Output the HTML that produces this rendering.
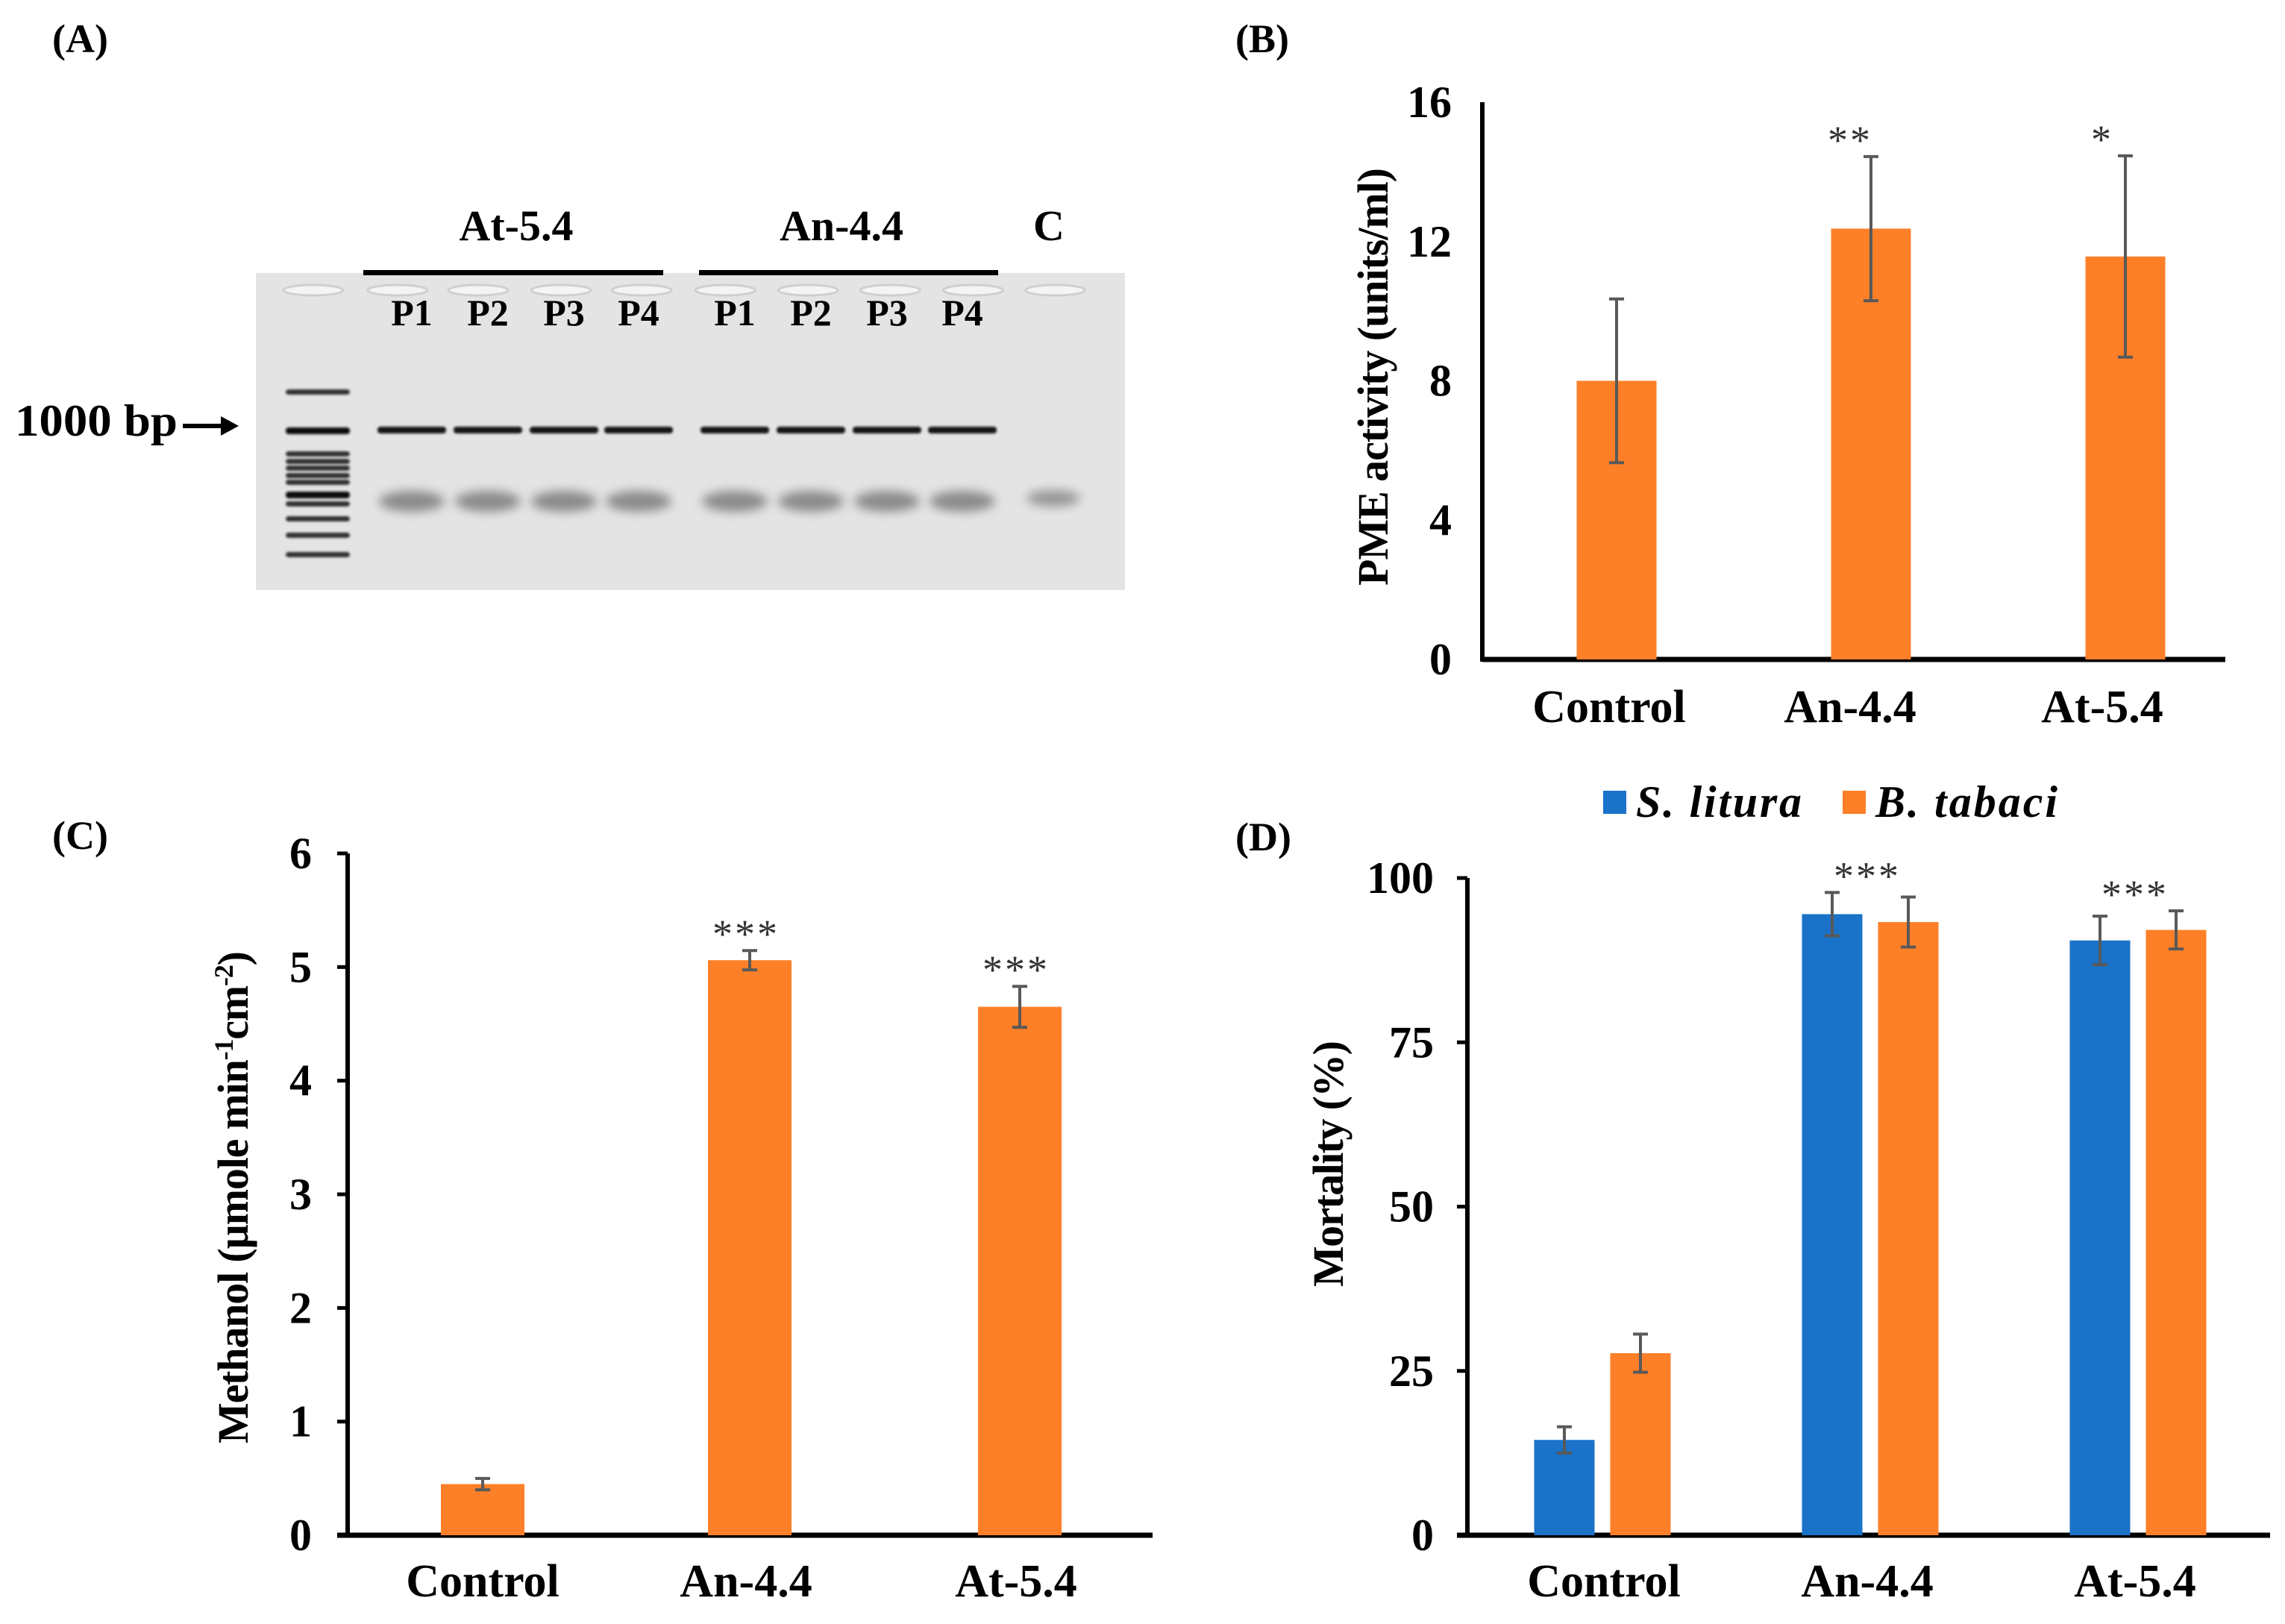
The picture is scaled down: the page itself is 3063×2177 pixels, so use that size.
<!DOCTYPE html>
<html><head><meta charset="utf-8">
<style>
html,body{margin:0;padding:0;background:#fff;}
svg{display:block;font-family:"Liberation Serif",serif;font-weight:bold;}
</style></head>
<body>
<svg id="fig" width="3063" height="2177" viewBox="0 0 3063 2177" xmlns="http://www.w3.org/2000/svg">
<defs>
<filter id="blur" x="-50%" y="-50%" width="200%" height="200%"><feGaussianBlur stdDeviation="7"/></filter>
<filter id="blur2" x="-20%" y="-100%" width="140%" height="300%"><feGaussianBlur stdDeviation="1.5"/></filter>
</defs>
<g>
<text x="70" y="70" font-size="54">(A)</text>
<rect x="343" y="366" width="1165" height="425" fill="#e4e4e4"/>
<rect x="487" y="362" width="402" height="7" fill="#000"/>
<rect x="937" y="362" width="401" height="7" fill="#000"/>
<text x="692" y="322" font-size="58" text-anchor="middle">At-5.4</text>
<text x="1128" y="322" font-size="58" text-anchor="middle">An-4.4</text>
<text x="1406" y="322" font-size="58" text-anchor="middle">C</text>
<g id="gel"></g>
<text x="20" y="584" font-size="60" textLength="218" lengthAdjust="spacingAndGlyphs">1000 bp</text>
<line x1="245" y1="571" x2="300" y2="571" stroke="#000" stroke-width="6"/>
<polygon points="296,558 320,571 296,584" fill="#000"/>
</g>
<g id="chartB"></g>
<g id="chartC"></g>
<g id="chartD"></g>
</svg>
<script>
// ---- Panel B data ----
const bCats = ["Control","An-4.4","At-5.4"];
const bVals = [8.0, 12.37, 11.57];
const bErr = [2.35, 2.07, 2.89];
const bStars = ["", "**", "*"];
const bTicks = [0,4,8,12,16];
// ---- Panel C data ----
const cCats = ["Control","An-4.4","At-5.4"];
const cVals = [0.45, 5.06, 4.65];
const cErr = [0.05, 0.085, 0.18];
const cStars = ["", "***", "***"];
const cTicks = [0,1,2,3,4,5,6];
// ---- Panel D data ----
const dCats = ["Control","An-4.4","At-5.4"];
const dLitura = [14.5, 94.5, 90.5];
const dLituraErr = [2.0, 3.3, 3.7];
const dTabaci = [27.7, 93.3, 92.1];
const dTabaciErr = [2.9, 3.8, 2.9];
const dStars = ["", "***", "***"];
const dTicks = [0,25,50,75,100];

const NS = "http://www.w3.org/2000/svg";
function mk(parent, tag, attrs, text){
  const e = document.createElementNS(NS, tag);
  for (const k in attrs) e.setAttribute(k, attrs[k]);
  if (text !== undefined) e.textContent = text;
  parent.appendChild(e);
  return e;
}
const ORANGE = "#fd7f28", BLUE = "#1a72c9", ERR = "#595959";

(function(){
  const g = document.getElementById('gel');
  const wells = [425,540,650,763,873,987,1100,1212,1325,1437];
  wells.forEach(x=>{
    const w = mk(g,'ellipse',{cx:x*0.983+2,cy:389,rx:40,ry:7,fill:"#f4f4f4",stroke:"#cfcfcf","stroke-width":3});
    
    
  });
  const lanesX = [552,654,756,856,985,1087,1189,1290];
  const pl = ["P1","P2","P3","P4","P1","P2","P3","P4"];
  lanesX.forEach((x,i)=>{
    const t = mk(g,'text',{x:x,y:436,"font-size":50,"text-anchor":"middle"},pl[i]);
    
    
    const b = mk(g,'rect',{x:x-46,y:572,width:92,height:9,rx:4,fill:"#151515",filter:"url(#blur2)"});
    
    
    const s = mk(g,'ellipse',{cx:x,cy:672,rx:44,ry:14,fill:"#8a8a8a",filter:"url(#blur)"});
    
    
  });
  const cb = mk(g,'ellipse',{cx:1412,cy:668,rx:36,ry:11,fill:"#959595",filter:"url(#blur)"});
  
  
  const ladder = [526,577,609,619,628,638,647,663,676,696,718,744];
  ladder.forEach((y,i)=>{
    const l = mk(g,'rect',{x:383,y:y-4,width:86,height:(i===1||i===7)?9:7,rx:4,fill:(i===1||i===7)?"#111":"#333",filter:"url(#blur2)"});
    
    
  });
})();

function axisY(v, min, max, y0, y1){ return y0 - (v-min)/(max-min)*(y0-y1); }

function drawChart(gid, cfg){
  const g = document.getElementById(gid);
  const Y = v => axisY(v, cfg.ticks[0], cfg.ticks[cfg.ticks.length-1], cfg.base, cfg.top);
  const lab = mk(g,'text',{x:cfg.labelX,y:cfg.labelY,"font-size":54},cfg.label);
  
  
  const ya = mk(g,'line',{x1:cfg.ax,y1:cfg.top,x2:cfg.ax,y2:cfg.base+3,stroke:"#000","stroke-width":6});
  
  
  const xa = mk(g,'line',{x1:cfg.ax-(cfg.tickLen||0),y1:cfg.base,x2:cfg.axEnd,y2:cfg.base,stroke:"#000","stroke-width":7});
  
  
  cfg.ticks.forEach(t=>{
    const y = Y(t);
    if (cfg.tickLen){
      const tk = mk(g,'line',{x1:cfg.ax-cfg.tickLen,y1:y,x2:cfg.ax,y2:y,stroke:"#000","stroke-width":5});
      
      
    }
    const tl = mk(g,'text',{x:cfg.tickX,y:y+20,"font-size":60,"text-anchor":"end"},String(t));
    
    
  });
  const yl = mk(g,'text',{x:0,y:0,"font-size":58,"text-anchor":"middle",transform:`translate(${cfg.ylX},${cfg.ylY}) rotate(-90)`});
  
  
  if (cfg.ylLen) yl.setAttribute('textLength', cfg.ylLen);
  cfg.ylParts.forEach(p=>{
    mk(yl,'tspan',p.sup?{"font-size":36,dy:-20}:(p.after?{dy:20}:{}),p.t);
  });
  cfg.series.forEach((s,si)=>{
    s.vals.forEach((v,i)=>{
      const cx = cfg.centers[i] + s.off;
      const y = Y(v);
      const r = mk(g,'rect',{x:cx-cfg.bw/2,y:y,width:cfg.bw,height:cfg.base-y,fill:s.color});
      
      
      const e = s.err[i], yt = Y(v+e), yb = Y(v-e);
      const eb = mk(g,'path',{d:`M${cx} ${yt}V${yb}M${cx-10} ${yt}H${cx+10}M${cx-10} ${yb}H${cx+10}`,stroke:ERR,"stroke-width":4,fill:"none"});
      
      
    });
  });
  cfg.cats.forEach((c,i)=>{
    const t = mk(g,'text',{x:cfg.catCenters[i],y:cfg.catY,"font-size":62,"text-anchor":"middle"},c);
    
    
    if (cfg.stars[i]){
      const top = Math.max(...cfg.series.map(s=>s.vals[i]+s.err[i]));
      const st = mk(g,'text',{x:cfg.catCenters[i],y:Y(top)-4,"font-size":54,"font-weight":"normal",fill:"#333","text-anchor":"middle","letter-spacing":"3"},cfg.stars[i]);
      
      
    }
  });
}

drawChart('chartB',{label:"(B)",labelX:1656,labelY:70,ax:1987,axEnd:2983,top:137,base:884,
  ticks:bTicks,tickX:1946,tickLen:0,cats:bCats,catCenters:[2157,2480,2818],catY:968,
  centers:[2167,2508,2849],bw:107,stars:bStars,
  series:[{name:'pme',vals:bVals,err:bErr,color:ORANGE,off:0}],
  ylX:1860,ylY:505,ylLen:560,ylParts:[{t:"PME activity (units/ml)"}]});

drawChart('chartC',{label:"(C)",labelX:70,labelY:1138,ax:466,axEnd:1545,top:1144,base:2058,
  ticks:cTicks,tickX:418,tickLen:14,cats:cCats,catCenters:[647,1000,1362],catY:2140,
  centers:[647,1005,1367],bw:112,stars:cStars,
  series:[{name:'methanol',vals:cVals,err:cErr,color:ORANGE,off:0}],
  ylX:332,ylY:1605,ylLen:660,ylParts:[{t:"Methanol (µmole min"},{t:"-1",sup:true},{t:"cm",after:true},{t:"-2",sup:true},{t:")",after:true}]});

drawChart('chartD',{label:"(D)",labelX:1656,labelY:1140,ax:1967,axEnd:3043,top:1177,base:2058,
  ticks:dTicks,tickX:1922,tickLen:14,cats:dCats,catCenters:[2150,2503,2862],catY:2140,
  centers:[2148,2507,2866],bw:81,stars:dStars,
  series:[{name:'s-litura',vals:dLitura,err:dLituraErr,color:BLUE,off:-51},
          {name:'b-tabaci',vals:dTabaci,err:dTabaciErr,color:ORANGE,off:51}],
  ylX:1800,ylY:1560,ylLen:330,ylParts:[{t:"Mortality (%)"}]});

(function(){
  const g = document.getElementById('chartD');
  const lg = mk(g,'g',{});
  
  
  const r1 = mk(lg,'rect',{x:2149,y:1060,width:31,height:31,fill:BLUE});
  
  
  const t1 = mk(lg,'text',{x:2193,y:1095,"font-size":60,"font-style":"italic",textLength:222},"S. litura");
  
  
  const r2 = mk(lg,'rect',{x:2470,y:1060,width:31,height:31,fill:ORANGE});
  
  
  const t2 = mk(lg,'text',{x:2514,y:1095,"font-size":60,"font-style":"italic",textLength:244},"B. tabaci");
  
  
})();
</script>
</body></html>
